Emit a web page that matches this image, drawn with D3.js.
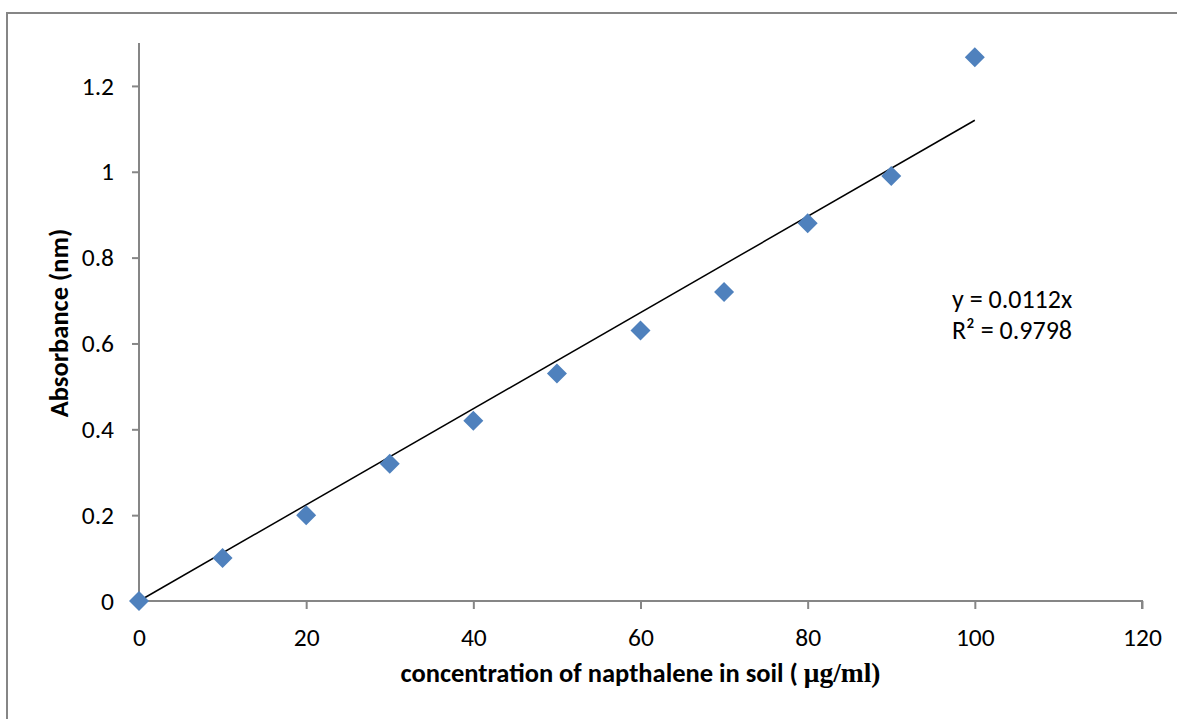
<!DOCTYPE html>
<html><head><meta charset="utf-8">
<script src="https://cdn.jsdelivr.net/npm/d3@7"></script>
<style>
html,body{margin:0;padding:0;background:#fff;}
svg{display:block;font-family:Carlito,Lato,"Open Sans",sans-serif;}
</style></head>
<body>
<svg id="chart" width="1177" height="719"></svg>
<script>
const concentration = [0, 10, 20, 30, 40, 50, 60, 70, 80, 90, 100];
const absorbance = [0, 0.1, 0.2, 0.32, 0.42, 0.53, 0.63, 0.72, 0.88, 0.99, 1.267];
const xTicks = [0, 20, 40, 60, 80, 100, 120];
const yTicks = [0, 0.2, 0.4, 0.6, 0.8, 1, 1.2];
const trendSlope = 0.0112;
const trendRange = [0, 100];
const equationText = "y = 0.0112x";
const r2Text = "R² = 0.9798";

const svg = d3.select("#chart");
const fontFam = "Carlito,Lato,'Open Sans',sans-serif";
// outer chart frame
svg.append("rect").attr("x", 7).attr("y", 13).attr("width", 1200).attr("height", 760)
  .attr("fill", "#fff").attr("stroke", "#868686").attr("stroke-width", 2);

const x = d3.scaleLinear().domain([0, 120]).range([139, 1142]);
const y = d3.scaleLinear().domain([0, 1.3]).range([601, 43]);

const axisColor = "#868686";
const yAxis = svg.append("g").attr("transform", "translate(139,0)")
  .call(d3.axisLeft(y).tickValues(yTicks).tickSize(7).tickSizeOuter(0).tickPadding(18)
    .tickFormat(d => String(+d.toFixed(1))));
const xAxis = svg.append("g").attr("transform", "translate(0,601)")
  .call(d3.axisBottom(x).tickValues(xTicks).tickSize(8).tickSizeOuter(8).tickPadding(19));
[yAxis, xAxis].forEach(a => {
  a.select(".domain").attr("stroke", axisColor).attr("stroke-width", 2);
  a.selectAll(".tick line").attr("stroke", axisColor).attr("stroke-width", 2);
  a.selectAll(".tick text").attr("fill", "#000").style("font-size", "25.5px")
    .style("font-family", fontFam);
});
xAxis.select(".domain").attr("d", `M${x(0)},0H${x(120)}V8`);
yAxis.select(".domain").attr("d", `M0,${y(1.3)}V${y(0)}`);

// trendline
svg.append("line")
  .attr("x1", x(trendRange[0])).attr("y1", y(trendSlope * trendRange[0]))
  .attr("x2", x(trendRange[1])).attr("y2", y(trendSlope * trendRange[1]))
  .attr("stroke", "#000").attr("stroke-width", 1.5);

// markers
const sym = d3.symbol().type(d3.symbolSquare).size(200);
svg.append("g").selectAll("path").data(concentration.map((c, i) => [c, absorbance[i]]))
  .join("path")
  .attr("d", sym)
  .attr("transform", d => `translate(${x(d[0])},${y(d[1])}) rotate(45)`)
  .attr("fill", "#4F81BD");

// equation
svg.append("text").attr("x", 952).attr("y", 308).text(equationText)
  .style("font-size", "26px").attr("fill", "#000");
svg.append("text").attr("x", 952).attr("y", 339).text(r2Text)
  .style("font-size", "26px").attr("fill", "#000");

// x title
const xt = svg.append("text").attr("x", (x(0) + x(120)) / 2).attr("y", 682)
  .attr("text-anchor", "middle").style("font-size", "26.5px").style("font-weight", "bold");
xt.append("tspan").text("concentration of napthalene in soil ( ");
xt.append("tspan").style("font-family", "'Liberation Serif','Times New Roman',serif").style("font-size", "27.5px").text("μg/ml)");

// y title
svg.append("text").attr("transform", `translate(68,323) rotate(-90)`)
  .attr("text-anchor", "middle").style("font-size", "26.5px").style("font-weight", "bold")
  .text("Absorbance (nm)");
</script>
</body></html>
